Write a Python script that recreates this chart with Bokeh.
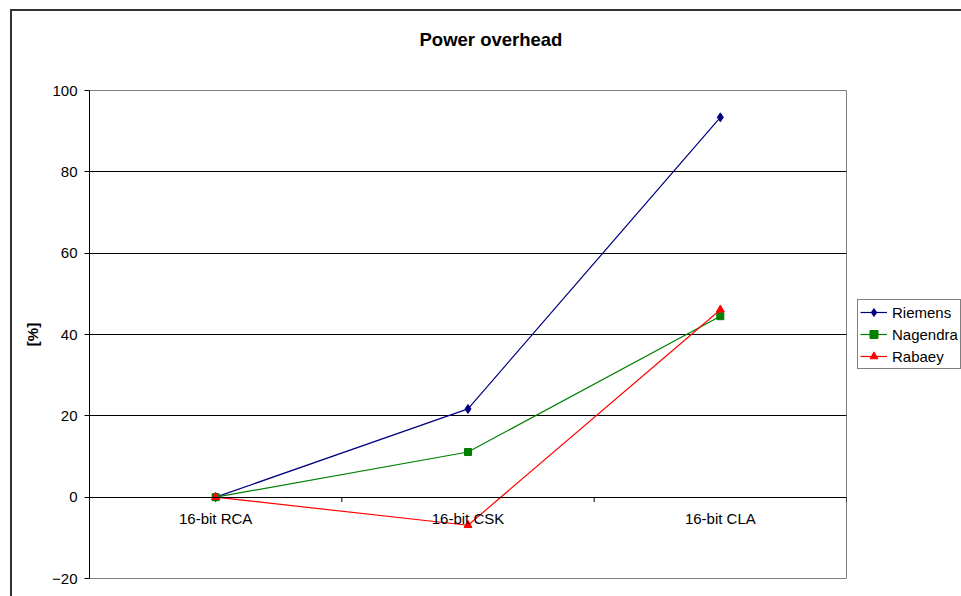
import math
from bokeh.plotting import figure
from bokeh.models import (FactorRange, Range1d, CategoricalAxis, FixedTicker,
                          Legend, LegendItem, Title)
from bokeh.embed import file_html
from bokeh.resources import INLINE

# ---- data ----
categories = ["16-bit RCA", "16-bit CSK", "16-bit CLA"]
riemens = [0.0, 21.7, 93.4]
nagendra = [0.0, 11.1, 44.5]
rabaey = [0.0, -6.9, 46.1]
y_ticks = [-20, 0, 20, 40, 60, 80, 100]
category_edges = [0, 1, 2, 3]
chart_title = "Power overhead"

FONT = "Liberation Sans"

p = figure(x_range=FactorRange(*categories, range_padding=0),
           y_range=Range1d(-20, 100),
           frame_width=757, frame_height=488,
           output_backend="svg", toolbar_location=None,
           min_border_left=77, min_border_right=115, min_border_top=79,
           min_border_bottom=18, x_axis_location=None,
           margin=(11, 0, 0, 12),
           styles={"outline": "2px solid #333333"})

p.background_fill_color = "white"
p.border_fill_color = "white"
p.outline_line_color = "#808080"
p.outline_line_width = 1

# title: spacer (closest to frame) then the real title above it
spacer = Title(text=" ", text_font=FONT, text_font_size="18.5px", standoff=13)
p.add_layout(spacer, "above")
title = Title(text=chart_title, text_font=FONT, text_font_size="18.5px",
              text_font_style="bold", text_color="black", align="left",
              offset=330, standoff=10)
p.add_layout(title, "above")

# y axis
yax = p.yaxis[0]
yax.ticker = FixedTicker(ticks=y_ticks)
yax.major_tick_out = 5
yax.major_tick_in = 0
yax.minor_tick_line_color = None
yax.axis_line_color = "black"
yax.major_tick_line_color = "black"
yax.major_label_text_font = FONT
yax.major_label_text_font_size = "15px"
yax.major_label_text_color = "black"
yax.major_label_standoff = 7
yax.axis_label = "[%]"
yax.axis_label_text_font = FONT
yax.axis_label_text_font_size = "15px"
yax.axis_label_text_font_style = "bold"
yax.axis_label_text_color = "black"
yax.axis_label_standoff = 8

# grid
p.xgrid.grid_line_color = None
p.ygrid.ticker = FixedTicker(ticks=y_ticks[1:-1])
p.ygrid.grid_line_color = "black"
p.ygrid.grid_line_width = 1

# category axis crossing at 0
xax = CategoricalAxis(fixed_location=0, axis_line_color="black",
                      major_tick_line_color=None, major_tick_out=0, major_tick_in=0,
                      minor_tick_line_color=None,
                      major_label_text_font=FONT, major_label_text_font_size="15px",
                      major_label_text_color="black", major_label_standoff=13)
p.add_layout(xax, "below")

# tick marks at category boundaries (synthetic coordinates of the factor range)
p.ray(x=category_edges, y=[0] * len(category_edges), length=5, length_units="screen",
      angle=-math.pi / 2, line_color="black", line_width=1)

# series
series = [
    ("Riemens", riemens, "#000080", "diamond", 9),
    ("Nagendra", nagendra, "#008000", "square", 7),
    ("Rabaey", rabaey, "#FF0000", "triangle", 8),
]
items = []
for name, vals, col, mk, sz in series:
    lr = p.line(categories, vals, line_color=col, line_width=1.2)
    sr = p.scatter(categories, vals, marker=mk, size=sz, fill_color=col, line_color=col)
    items.append(LegendItem(label=name, renderers=[lr, sr]))

leg = Legend(items=items, location="center_left")
leg.border_line_color = "black"
leg.border_line_width = 1
leg.background_fill_color = "white"
leg.background_fill_alpha = 1
leg.padding = 2
leg.spacing = 2
leg.margin = 11
leg.glyph_width = 27
leg.glyph_height = 20
leg.label_height = 20
leg.label_standoff = 5
leg.label_text_font = FONT
leg.label_text_font_size = "15px"
leg.label_text_color = "black"
p.add_layout(leg, "right")

open("out.html", "w").write(file_html(p, INLINE))
